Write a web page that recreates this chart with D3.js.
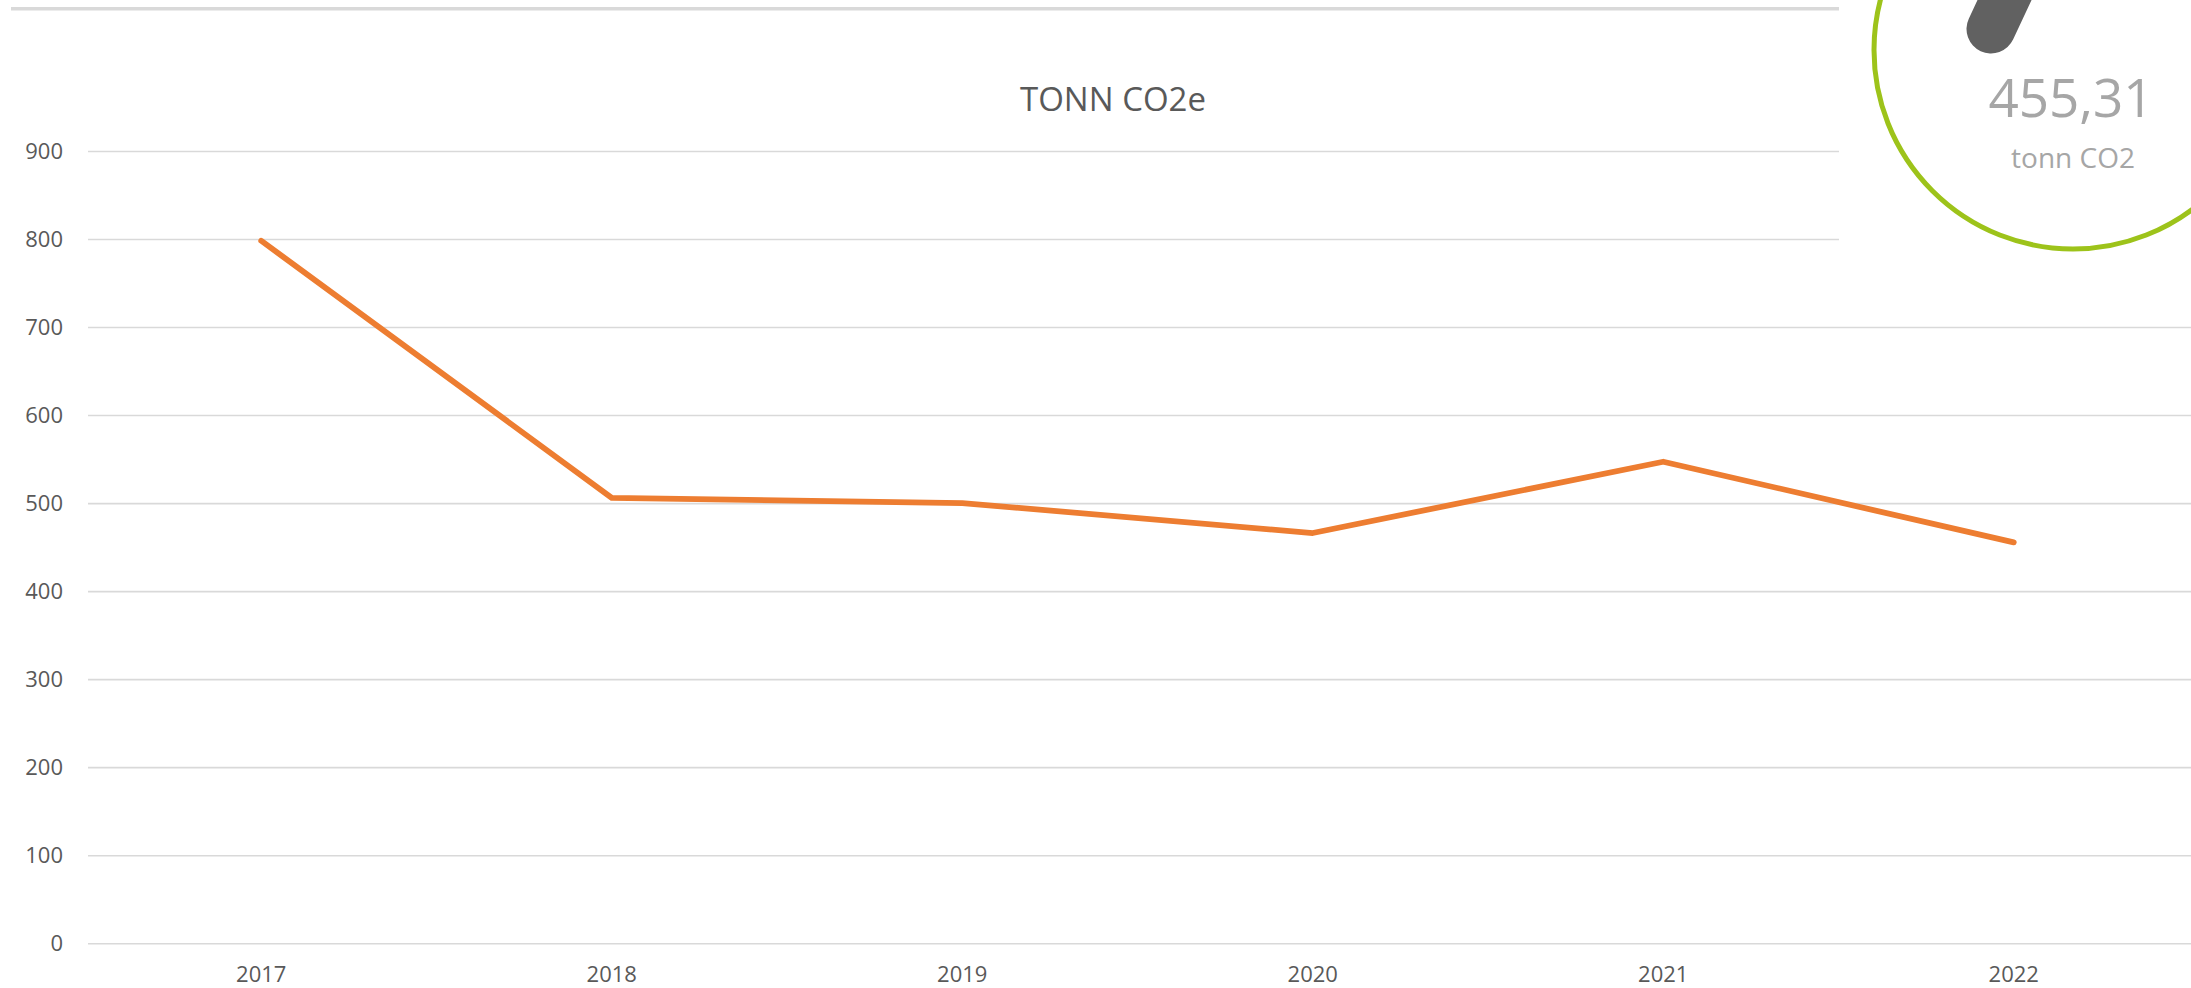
<!DOCTYPE html>
<html>
<head>
<meta charset="utf-8">
<script src="https://cdn.jsdelivr.net/npm/d3@7"></script>
<style>
  html, body { margin: 0; padding: 0; background: #ffffff; }
  svg { display: block; }
  text { font-family: "Open Sans", "Noto Sans", sans-serif; }
</style>
</head>
<body>
<svg id="chart" width="2191" height="988"></svg>
<script>
// ---- data ----
const years = ["2017", "2018", "2019", "2020", "2021", "2022"];
const values = [798, 506, 500, 466, 547, 455.31];
const yTicks = [0, 100, 200, 300, 400, 500, 600, 700, 800, 900];
const chartTitle = "TONN CO2e";
const badgeUnit = "tonn CO2";

const W = 2191, H = 988;
const svg = d3.select("#chart");

const x = d3.scaleBand().domain(years).range([86, 2189]).padding(0);
const y = d3.scaleLinear().domain([0, 900]).range([943.2, 151]);

// top separator line
svg.append("line")
  .attr("x1", 11).attr("x2", 1839).attr("y1", 8.7).attr("y2", 8.7)
  .attr("stroke", "#d9d9d9").attr("stroke-width", 3.4);

// y axis with gridlines
const yAxis = svg.append("g")
  .attr("transform", "translate(88,0)")
  .call(d3.axisLeft(y).tickValues(yTicks).tickSize(-(W - 88)).tickPadding(25).tickFormat(d3.format("d")));
yAxis.select(".domain").remove();
yAxis.selectAll(".tick line").attr("stroke", "#d9d9d9").attr("stroke-width", 1.6);
yAxis.selectAll(".tick text").attr("fill", "#595959").attr("font-size", 22);

// x axis labels
const xAxis = svg.append("g")
  .attr("transform", "translate(0,943.2)")
  .call(d3.axisBottom(x).tickSize(0).tickPadding(23));
xAxis.select(".domain").remove();
xAxis.selectAll(".tick text").attr("fill", "#595959").attr("font-size", 22);

// title
svg.append("text")
  .attr("x", 1113).attr("y", 111)
  .attr("text-anchor", "middle")
  .attr("fill", "#595959")
  .attr("font-size", 33)
  .text(chartTitle);

// line
const line = d3.line()
  .x((d, i) => x(years[i]) + x.bandwidth() / 2)
  .y(d => y(d));
svg.append("path")
  .datum(values)
  .attr("d", line)
  .attr("fill", "none")
  .attr("stroke", "#ED7D31")
  .attr("stroke-width", 5.8)
  .attr("stroke-linejoin", "round")
  .attr("stroke-linecap", "round");

// badge (covers top-right)
svg.append("rect")
  .attr("x", 1839).attr("y", 0).attr("width", W - 1839).attr("height", 262)
  .attr("fill", "#ffffff");
svg.append("circle")
  .attr("cx", 2073).attr("cy", 50).attr("r", 199)
  .attr("fill", "#ffffff")
  .attr("stroke", "#9dc31a").attr("stroke-width", 5);
svg.append("line")
  .attr("x1", 1991).attr("y1", 29).attr("x2", 2019).attr("y2", -31)
  .attr("stroke", "#616161").attr("stroke-width", 49).attr("stroke-linecap", "round");

const fmt = v => d3.format(".2f")(v).replace(".", ",");
svg.append("text")
  .attr("x", 2071).attr("y", 117)
  .attr("text-anchor", "middle")
  .attr("fill", "#a6a6a6")
  .attr("font-size", 53)
  .text(fmt(values[values.length - 1]));
svg.append("text")
  .attr("x", 2073).attr("y", 168)
  .attr("text-anchor", "middle")
  .attr("fill", "#a6a6a6")
  .attr("font-size", 28)
  .text(badgeUnit);
</script>
</body>
</html>
